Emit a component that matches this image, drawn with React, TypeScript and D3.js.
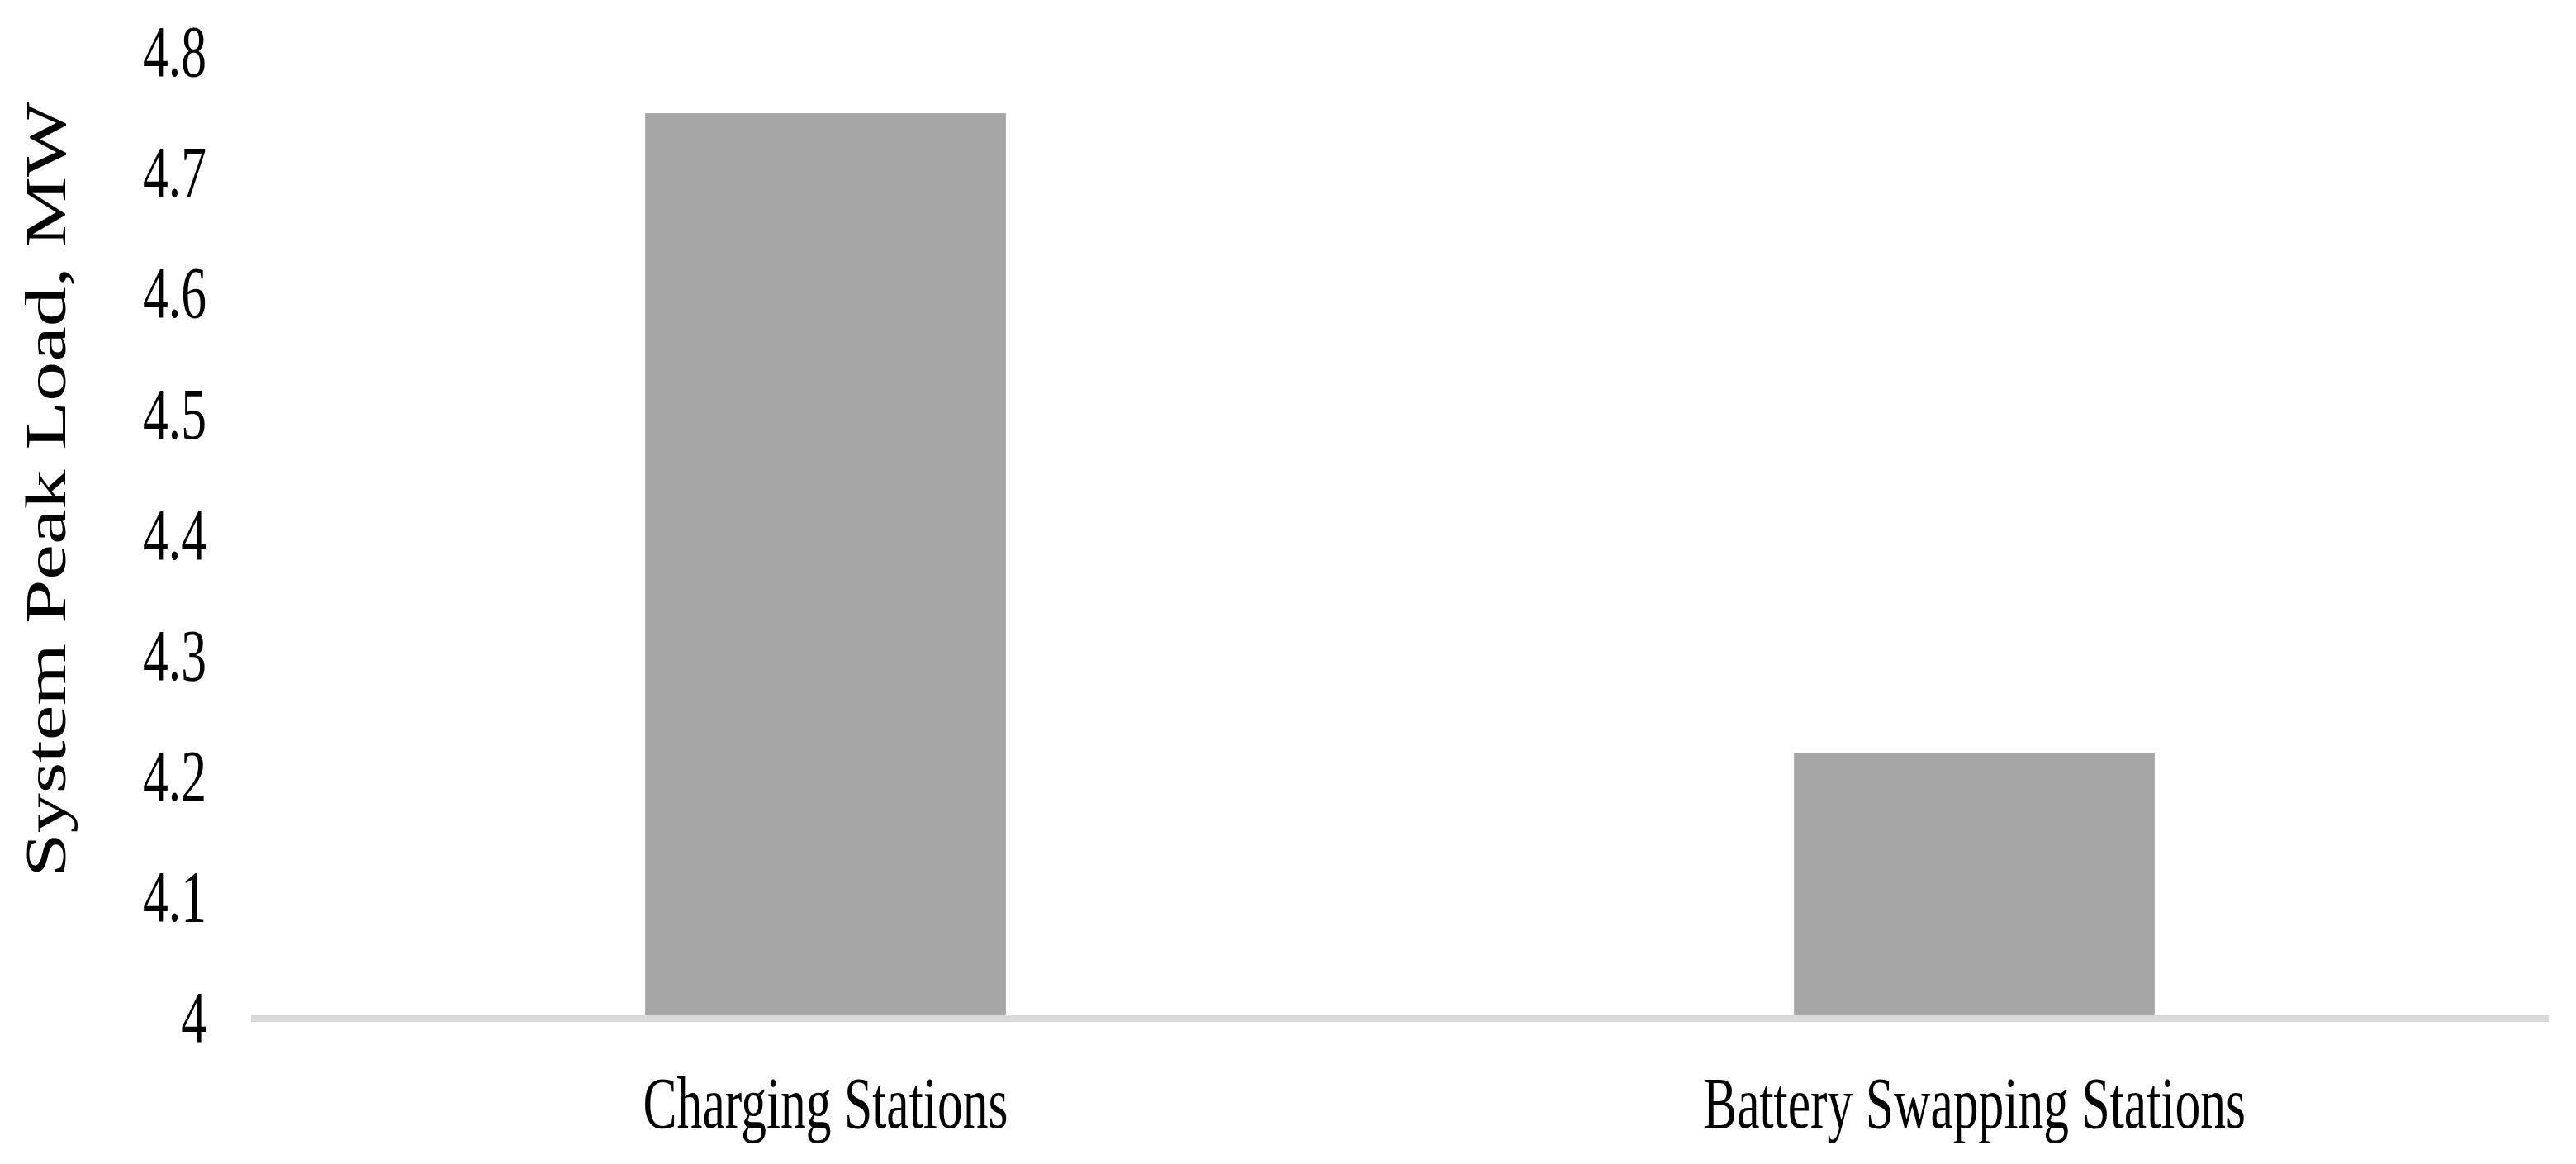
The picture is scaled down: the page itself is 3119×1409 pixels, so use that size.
import React from 'react';
import * as d3 from 'd3';

const categories = ['Charging Stations', 'Battery Swapping Stations'];
const peakLoad = [4.75, 4.22];
const yTicks = [4, 4.1, 4.2, 4.3, 4.4, 4.5, 4.6, 4.7, 4.8];
const yTickLabels = ['4', '4.1', '4.2', '4.3', '4.4', '4.5', '4.6', '4.7', '4.8'];
const yTitle = 'System Peak Load, MW';

const width = 3119;
const height = 1409;
const plot = { left: 304, right: 3086, top: 64, bottom: 1233 };
const squeeze = 0.7; // the figure's text is horizontally condensed
const font = '"Liberation Serif", "Times New Roman", serif';

export default function App() {
    const xScale = d3.scaleBand<string>()
        .domain(categories)
        .range([plot.left, plot.right])
        .paddingInner(0.686)
        .paddingOuter(0.343);

    const yScale = d3.scaleLinear()
        .domain([4, 4.8])
        .range([plot.bottom, plot.top]);

    return (
        <svg width={width} height={height} viewBox={`0 0 ${width} ${height}`}
            style={{ position: 'absolute', left: 0, top: 0, display: 'block', background: '#fff' }}
        >
            {/* bars */}
            {categories.map((c, i) => (
                <rect key={c}
                    x={xScale(c)}
                    y={yScale(peakLoad[i])}
                    width={xScale.bandwidth()}
                    height={yScale(4) - yScale(peakLoad[i])}
                    fill='#a6a6a6'
                />
            ))}

            {/* baseline axis */}
            <line x1={plot.left} x2={plot.right} y1={yScale(4)} y2={yScale(4)}
                stroke='#d9d9d9' strokeWidth={8} />

            {/* y tick labels */}
            {yTicks.map((t, i) => (
                <text key={t}
                    transform={`translate(250,${yScale(t)}) scale(${squeeze},1)`}
                    textAnchor='end' dy='0.32em'
                    fontFamily={font} fontSize={88} fill='#000'
                >{yTickLabels[i]}</text>
            ))}

            {/* category labels */}
            {categories.map((c) => (
                <text key={c}
                    transform={`translate(${(xScale(c) ?? 0) + xScale.bandwidth() / 2},1365) scale(${squeeze},1)`}
                    textAnchor='middle'
                    fontFamily={font} fontSize={88} fill='#000'
                >{c}</text>
            ))}

            {/* y axis title */}
            <text
                transform={`translate(79,${(125 + 1060) / 2}) rotate(-90) scale(1,0.73)`}
                textAnchor='middle'
                fontFamily={font} fontSize={96} fill='#000'
            >{yTitle}</text>
        </svg>
    );
}
